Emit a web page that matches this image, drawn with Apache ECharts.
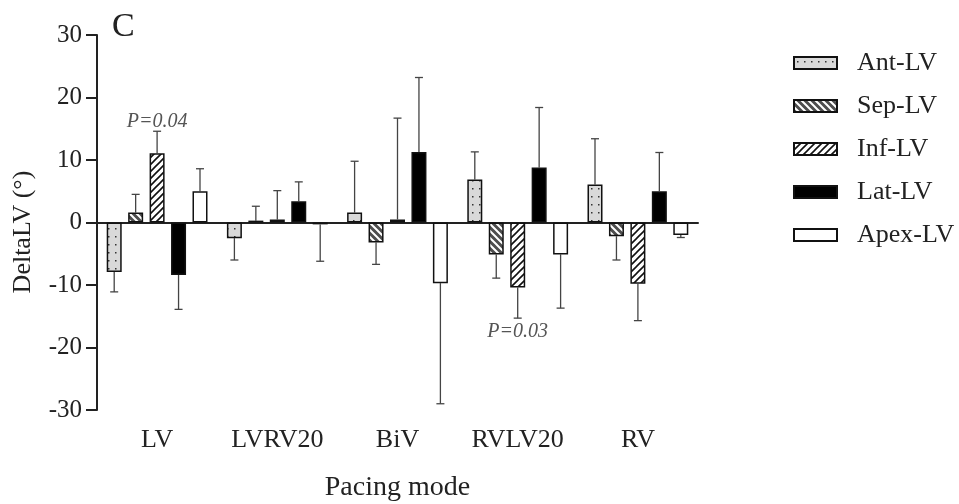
<!DOCTYPE html>
<html>
<head>
<meta charset="utf-8">
<script src="https://cdn.jsdelivr.net/npm/echarts@6/dist/echarts.min.js"></script>
<style>html,body{margin:0;padding:0;background:#fff}#c{width:959px;height:504px}</style>
</head>
<body>
<div id="c"></div>
<script>
// ---- data ----
var categories = ['LV', 'LVRV20', 'BiV', 'RVLV20', 'RV'];
var seriesNames = ['Ant-LV', 'Sep-LV', 'Inf-LV', 'Lat-LV', 'Apex-LV'];
var antLV  = [-7.9, -2.5, 1.6, 6.9, 6.1];
var sepLV  = [1.6, 0.3, -3.2, -5.1, -2.2];
var infLV  = [11.1, 0.5, 0.5, -10.4, -9.8];
var latLV  = [-8.4, 3.4, 11.3, 8.8, 5.0];
var apexLV = [5.0, -0.3, -9.7, -5.1, -2.0];
// error bar ends (mean +/- SD, drawn away from zero)
var antErr  = [-11.1, -6.0, 9.8, 11.3, 13.4];
var sepErr  = [4.5, 2.6, -6.7, -8.9, -6.0];
var infErr  = [14.6, 5.1, 16.7, -15.3, -15.7];
var latErr  = [-13.9, 6.5, 23.2, 18.4, 11.2];
var apexErr = [8.6, -6.2, -29.0, -13.7, -2.4];
var yTicks = [-30, -20, -10, 0, 10, 20, 30];
var pAnnotations = [
  { category: 'LV', y: 16.2, text: 'P=0.04' },
  { category: 'RVLV20', y: -17.4, text: 'P=0.03' }
];

var values = [antLV, sepLV, infLV, latLV, apexLV];
var errs = [antErr, sepErr, infErr, latErr, apexErr];

// ---- patterns ----
function pattern(w, h, bg, draw) {
  var c = document.createElement('canvas');
  c.width = w; c.height = h;
  var ctx = c.getContext('2d');
  ctx.fillStyle = bg; ctx.fillRect(0, 0, w, h);
  draw(ctx, w, h);
  return { image: c, repeat: 'repeat' };
}
var dots = pattern(7, 8, '#d9d9d9', function (ctx) {
  ctx.fillStyle = '#333'; ctx.fillRect(3, 4, 1.5, 1.5);
});
var sepStripes = pattern(7, 7, '#4d4d4d', function (ctx, s) {
  ctx.strokeStyle = '#ffffff'; ctx.lineWidth = 2;
  ctx.beginPath();
  ctx.moveTo(-1, -1); ctx.lineTo(s + 1, s + 1);
  ctx.moveTo(-1, s - 1); ctx.lineTo(1, s + 1);
  ctx.moveTo(s - 1, -1); ctx.lineTo(s + 1, 1);
  ctx.stroke();
});
var infStripes = pattern(7, 7, '#ffffff', function (ctx, s) {
  ctx.strokeStyle = '#111111'; ctx.lineWidth = 1.6;
  ctx.beginPath();
  ctx.moveTo(-1, s + 1); ctx.lineTo(s + 1, -1);
  ctx.moveTo(-1, 1); ctx.lineTo(1, -1);
  ctx.moveTo(s - 1, s + 1); ctx.lineTo(s + 1, s - 1);
  ctx.stroke();
});
var fills = [dots, sepStripes, infStripes, '#000000', '#ffffff'];

var FONT = 'Liberation Serif';
var barW = 15, gapRatio = 0.43;
var pitch = barW * (1 + gapRatio);

var series = [];
seriesNames.forEach(function (name, i) {
  var s = {
    name: name,
    type: 'bar',
    data: values[i],
    barWidth: barW,
    barGap: (gapRatio * 100) + '%',
    z: 3,
    itemStyle: { color: fills[i], borderColor: '#111', borderWidth: 1.5 }
  };
  if (i === 2) {
    s.markPoint = {
      symbol: 'circle', symbolSize: 0,
      label: {
        show: true, position: 'inside',
        fontFamily: FONT, fontStyle: 'italic', fontSize: 20, color: '#555',
        formatter: function (p) { return p.name; }
      },
      data: pAnnotations.map(function (a) { return { name: a.text, coord: [a.category, a.y] }; })
    };
  }
  series.push(s);
});
seriesNames.forEach(function (name, i) {
  var off = (i - 2) * pitch;
  series.push({
    name: 'err-' + name,
    type: 'custom',
    z: 2,
    silent: true,
    data: categories.map(function (c, k) { return [k, values[i][k], errs[i][k]]; }),
    renderItem: function (params, api) {
      var x = api.coord([api.value(0), 0])[0] + off;
      var y1 = api.coord([api.value(0), api.value(1)])[1];
      var y2 = api.coord([api.value(0), api.value(2)])[1];
      var st = { stroke: '#444', lineWidth: 1.3 };
      return {
        type: 'group',
        children: [
          { type: 'line', shape: { x1: x, y1: y1, x2: x, y2: y2 }, style: st },
          { type: 'line', shape: { x1: x - 4, y1: y2, x2: x + 4, y2: y2 }, style: st }
        ]
      };
    }
  });
});

var chart = echarts.init(document.getElementById('c'), null, { renderer: 'canvas' });
chart.setOption({
  animation: false,
  backgroundColor: '#fff',
  grid: { left: 97, right: 261, top: 35, bottom: 94, containLabel: false, outerBoundsMode: 'none' },
  legend: {
    data: seriesNames,
    orient: 'vertical',
    left: 788, top: 45,
    itemWidth: 43, itemHeight: 12, itemGap: 17,
    icon: 'rect',
    selectedMode: false,
    textStyle: { fontFamily: FONT, fontSize: 26, lineHeight: 26, color: '#222', padding: [0, 0, 0, 15] }
  },
  xAxis: {
    type: 'category',
    data: categories,
    name: 'Pacing mode',
    nameLocation: 'middle',
    nameGap: 64,
    nameTextStyle: { fontFamily: FONT, fontSize: 28, color: '#222' },
    axisLine: { lineStyle: { color: '#222', width: 2 } },
    axisTick: { alignWithLabel: true, length: 9, lineStyle: { color: '#222', width: 2 } },
    axisLabel: { fontFamily: FONT, fontSize: 26, color: '#222', margin: 17 }
  },
  yAxis: {
    type: 'value',
    min: yTicks[0], max: yTicks[yTicks.length - 1], interval: 10,
    splitLine: { show: false },
    axisLine: { show: true, onZero: false, lineStyle: { color: '#222', width: 2 } },
    axisTick: { show: true, length: 11, lineStyle: { color: '#222', width: 2 } },
    axisLabel: { fontFamily: FONT, fontSize: 25, color: '#222', margin: 15 }
  },
  graphic: [
    { type: 'text', left: 112, top: 10, style: { text: 'C', font: '34px "Liberation Serif"', fill: '#222' } },
    { type: 'text', x: 23, y: 232, rotation: Math.PI / 2,
      style: { text: 'DeltaLV (°)', font: '26px "Liberation Serif"', fill: '#222', align: 'center', verticalAlign: 'middle' } }
  ],
  series: series
});
</script>
</body>
</html>
